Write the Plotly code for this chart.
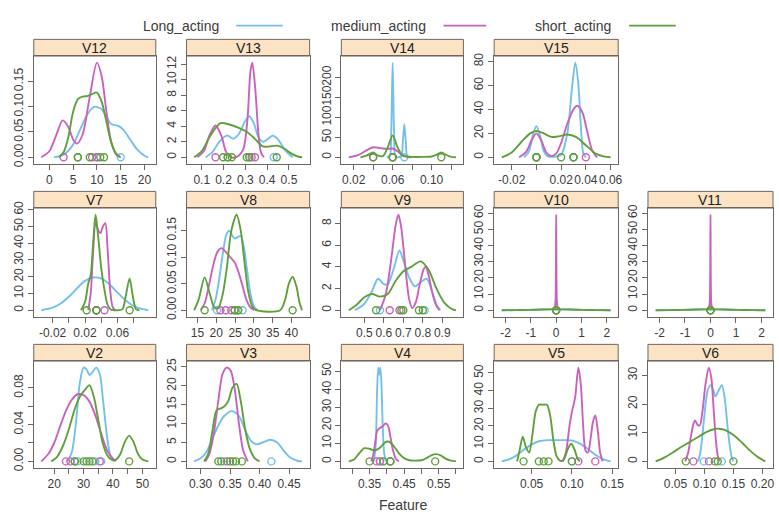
import plotly.graph_objects as go

# ---------------- data ----------------
groups = ["Long_acting", "medium_acting", "short_acting"]

# density curves: lists of (x, density)
V12_long = [(1,0),(3,0.005),(5,0.025),(6.5,0.055),(8,0.085),(9.5,0.1),(11,0.095),(12,0.08),(13,0.066),(14.5,0.062),(15.5,0.055),(17,0.035),(18.5,0.015),(20,0.003),(20.8,0)]
V12_med = [(-1.7,0),(0,0.012),(1.5,0.045),(2.8,0.073),(4,0.06),(5,0.035),(5.8,0.027),(7,0.045),(8.5,0.12),(10,0.187),(11,0.16),(12,0.09),(13,0.03),(14,0.006),(14.8,0)]
V12_short = [(2,0),(3,0.01),(4,0.04),(5,0.09),(6,0.115),(7,0.12),(8,0.121),(9,0.125),(10,0.128),(11,0.11),(12,0.07),(13,0.03),(14,0.008),(15,0)]
V12_obs = {"long": [10, 15], "med": [3, 9, 10], "short": [6, 6, 8.5, 10.7, 11.5]}

V13_long = [(0.118,0),(0.15,0.7),(0.18,2),(0.216,2.8),(0.246,2.4),(0.27,3),(0.3,4.7),(0.318,5.3),(0.34,4.3),(0.36,2.6),(0.381,2.0),(0.405,2.4),(0.426,2.8),(0.45,2.3),(0.48,1.0),(0.517,0)]
V13_med = [(0.08,0),(0.11,0.8),(0.135,2.8),(0.163,4.1),(0.19,2.8),(0.21,0.8),(0.23,0.05),(0.26,0.05),(0.29,1),(0.31,5),(0.323,11),(0.332,12.2),(0.345,9),(0.36,3),(0.372,0.6),(0.385,0)]
V13_short = [(0.065,0),(0.1,0.8),(0.14,2.8),(0.186,4.4),(0.23,4.2),(0.27,3.8),(0.306,3.3),(0.34,2.5),(0.38,1.4),(0.41,1.4),(0.446,1.5),(0.48,1.1),(0.51,0.5),(0.54,0.1),(0.56,0)]
V13_obs = {"long": [0.318, 0.43], "med": [0.163, 0.329, 0.344], "short": [0.198, 0.219, 0.219, 0.238, 0.306, 0.318, 0.444]}

V14_long = [(0.054,0),(0.057,2),(0.0585,60),(0.06,237),(0.0615,60),(0.063,2),(0.066,0),(0.069,3),(0.0705,40),(0.072,83),(0.0735,40),(0.075,3),(0.078,0)]
V14_med = [(0.015,0),(0.025,6),(0.035,20),(0.04,25),(0.045,24),(0.05,22),(0.055,21),(0.06,22),(0.065,15),(0.07,5),(0.075,1),(0.08,0)]
V14_short = [(0.027,0),(0.033,4),(0.04,12),(0.045,4),(0.05,3),(0.055,25),(0.06,55),(0.065,25),(0.07,5),(0.075,2),(0.08,1),(0.09,1),(0.1,2),(0.105,6),(0.11,12),(0.115,6),(0.12,1),(0.125,0)]
V14_obs = {"long": [0.06, 0.072], "med": [0.04, 0.06], "short": [0.04, 0.06, 0.06, 0.11]}

V15_long = [(-0.01,0),(-0.006,5),(-0.003,18),(0,26),(0.003,18),(0.006,5),(0.009,1),(0.015,0.5),(0.02,2),(0.025,20),(0.029,60),(0.0315,79),(0.034,60),(0.036,25),(0.038,3),(0.04,0)]
V15_med = [(-0.014,0),(-0.008,5),(-0.004,14),(0,20),(0.004,14),(0.008,4),(0.012,1),(0.016,3),(0.02,12),(0.025,28),(0.03,40),(0.033,43),(0.037,38),(0.041,22),(0.045,6),(0.049,0)]
V15_short = [(-0.028,0),(-0.02,4),(-0.012,13),(-0.005,20),(0,22),(0.006,20),(0.012,17),(0.018,17.5),(0.025,19),(0.032,17),(0.04,10),(0.048,3),(0.055,0.5),(0.06,0)]
V15_obs = {"long": [0, 0.03], "med": [0, 0.04], "short": [0, 0, 0.02, 0.03, 0.03]}

V7_long = [(-0.034,0),(-0.02,1.5),(-0.01,4),(0,8),(0.01,13),(0.02,17.5),(0.03,19.5),(0.04,19),(0.05,15.5),(0.06,10.5),(0.07,6),(0.08,2.5),(0.09,0.8),(0.098,0)]
V7_med = [(0.024,0),(0.027,10),(0.03,35),(0.033,52),(0.036,48),(0.039,46),(0.042,50),(0.045,52),(0.048,35),(0.051,12),(0.054,2),(0.057,0)]
V7_short = [(0.015,0),(0.02,5),(0.024,16),(0.027,21),(0.03,40),(0.033,57),(0.036,45),(0.04,25),(0.044,12),(0.048,3),(0.052,0.3),(0.058,0),(0.066,0.5),(0.07,8),(0.075,19),(0.079,8),(0.083,0.5),(0.087,0)]
V7_obs = {"long": [0.034], "med": [0.034, 0.044], "short": [0.022, 0.034, 0.034, 0.075]}

V8_long = [(18.8,0),(19.8,0.02),(20.8,0.06),(21.8,0.11),(22.7,0.143),(23.5,0.15),(24.3,0.14),(24.9,0.135),(25.7,0.138),(26.5,0.14),(27.3,0.12),(28.2,0.075),(29.1,0.03),(30,0.007),(31,0)]
V8_med = [(15.9,0),(17,0.015),(18,0.045),(19.2,0.085),(20.3,0.11),(21.4,0.117),(22.5,0.11),(23.7,0.1),(24.9,0.09),(26,0.07),(27,0.045),(28,0.02),(29,0.006),(30.1,0)]
V8_short = [(14.1,0),(15.3,0.02),(16.9,0.062),(18.3,0.03),(19.5,0.005),(20.5,0.004),(21.7,0.03),(22.8,0.08),(24,0.15),(25.4,0.18),(26.5,0.15),(27.5,0.09),(28.5,0.035),(29.5,0.008),(30.6,0),(37,0),(38.3,0.02),(39.3,0.05),(40.3,0.063),(41.3,0.045),(42.1,0.015),(42.8,0)]
V8_obs = {"long": [20.2, 27], "med": [21.1, 22.5, 24], "short": [16.9, 24.9, 24.9, 25.8, 25.8, 40.3]}

V9_long = [(0.45,0),(0.5,0.6),(0.54,1.8),(0.57,2.9),(0.6,2.4),(0.62,2.4),(0.65,3.8),(0.68,5.5),(0.7,4.6),(0.73,3),(0.76,2.2),(0.79,2.6),(0.82,2.9),(0.85,1.6),(0.87,0.5),(0.89,0)]
V9_med = [(0.58,0),(0.61,1.5),(0.64,5),(0.66,7.8),(0.675,8.8),(0.69,7.5),(0.71,4),(0.73,1),(0.745,0.2),(0.765,0.8),(0.785,2.5),(0.805,3.8),(0.815,4.0),(0.83,3.2),(0.85,1.5),(0.87,0.4),(0.885,0)]
V9_short = [(0.42,0),(0.46,0.5),(0.5,1.2),(0.54,1.5),(0.58,1.25),(0.62,1.5),(0.66,2.7),(0.7,3.6),(0.74,4.0),(0.79,4.5),(0.83,3.7),(0.87,2),(0.91,0.7),(0.95,0.1),(0.97,0)]
V9_obs = {"long": [0.58, 0.81], "med": [0.63, 0.68], "short": [0.56, 0.69, 0.7, 0.78, 0.8]}

V10_long = [(-2.15,0),(-1.6,0.07),(-1.1,0.22),(-0.55,0.45),(0,0.55),(0.55,0.45),(1.1,0.22),(1.6,0.07),(2.15,0)]
V10_med = [(-0.06,0),(-0.025,6),(0,59),(0.025,6),(0.06,0)]
V10_short = [(-2.15,0),(-1.6,0.07),(-1.1,0.22),(-0.55,0.45),(0,0.55),(0.55,0.45),(1.1,0.22),(1.6,0.07),(2.15,0)]
V10_obs = {"long": [0], "med": [0], "short": [0, 0]}

V11_long = [(-2.15,0),(-1.6,0.07),(-1.1,0.22),(-0.55,0.45),(0,0.55),(0.55,0.45),(1.1,0.22),(1.6,0.07),(2.15,0)]
V11_med = [(-0.06,0),(-0.025,6),(0,59),(0.025,6),(0.06,0)]
V11_short = [(-2.15,0),(-1.6,0.07),(-1.1,0.22),(-0.55,0.45),(0,0.55),(0.55,0.45),(1.1,0.22),(1.6,0.07),(2.15,0)]
V11_obs = {"long": [0], "med": [0], "short": [0, 0]}

V2_long = [(24.5,0),(26,0.01),(27.5,0.045),(28.7,0.085),(30,0.102),(31,0.1),(32,0.094),(33,0.097),(34.3,0.102),(35.5,0.095),(36.5,0.07),(37.5,0.04),(38.5,0.015),(39.5,0.003),(40.5,0)]
V2_med = [(15.6,0),(18,0.008),(20,0.02),(22,0.038),(24,0.055),(26,0.067),(28,0.073),(30,0.072),(32,0.065),(34,0.05),(36,0.03),(38,0.012),(40,0.003),(41,0)]
V2_short = [(19,0),(21,0.005),(23,0.017),(25,0.035),(27,0.057),(29,0.072),(30.5,0.078),(32,0.083),(33.5,0.07),(35,0.045),(36.5,0.02),(38,0.007),(39.5,0.002),(41,0.002),(42.5,0.008),(44,0.021),(45.5,0.028),(47,0.021),(48.5,0.008),(50,0.002),(52,0)]
V2_obs = {"long": [28, 34, 36], "med": [24, 25.5, 35.5], "short": [27, 27, 30, 31, 32, 33, 45.5]}

V3_long = [(0.289,0),(0.3,0.8),(0.31,2.5),(0.32,6),(0.33,9.5),(0.34,12),(0.353,13.3),(0.365,12),(0.375,8.5),(0.385,5.5),(0.395,4.5),(0.405,5),(0.418,5.7),(0.43,5),(0.44,3),(0.452,1),(0.465,0.1),(0.472,0)]
V3_med = [(0.308,0),(0.315,2),(0.322,7),(0.33,16),(0.337,23),(0.344,24.8),(0.351,24),(0.358,19),(0.365,10),(0.372,3),(0.38,0)]
V3_short = [(0.306,0),(0.313,2),(0.32,8),(0.327,13.5),(0.334,14),(0.34,14.5),(0.347,16),(0.354,19.5),(0.361,20.5),(0.368,16),(0.375,9),(0.383,3.5),(0.392,0.8),(0.4,0)]
V3_obs = {"long": [0.34, 0.42], "med": [0.345], "short": [0.33, 0.335, 0.35, 0.355, 0.36, 0.37]}

V4_long = [(0.363,0),(0.368,10),(0.372,40),(0.375,52),(0.378,48),(0.381,52),(0.384,45),(0.388,20),(0.392,5),(0.397,0)]
V4_med = [(0.355,0),(0.36,3),(0.366,10),(0.372,17),(0.38,18.5),(0.388,19.5),(0.396,21),(0.403,20),(0.41,14),(0.418,6),(0.426,1.5),(0.435,0)]
V4_short = [(0.29,0),(0.305,1),(0.32,4.5),(0.335,7.3),(0.35,7),(0.365,6),(0.38,7.5),(0.395,10.5),(0.405,11),(0.42,8.5),(0.435,4.5),(0.45,1.8),(0.465,0.6),(0.48,0.4),(0.5,0.6),(0.515,1.8),(0.53,3.5),(0.543,4),(0.556,3.3),(0.57,1.5),(0.585,0.4),(0.6,0)]
V4_obs = {"long": [0.38, 0.39], "med": [0.37, 0.38, 0.41], "short": [0.35, 0.39, 0.41, 0.41, 0.54]}

V5_long = [(0.013,0),(0.02,0.8),(0.03,3),(0.04,6.5),(0.05,9.5),(0.06,11.5),(0.07,12),(0.08,12),(0.09,12),(0.1,11.8),(0.11,10),(0.12,7),(0.13,3.5),(0.14,1),(0.148,0)]
V5_med = [(0.089,0),(0.093,6),(0.097,20),(0.1,28),(0.104,36),(0.108,53),(0.111,44),(0.114,20),(0.117,6),(0.12,5),(0.123,12),(0.126,22),(0.129,26),(0.132,18),(0.135,5),(0.138,0)]
V5_short = [(0.032,0),(0.035,6),(0.039,14),(0.043,8),(0.047,5),(0.051,15),(0.055,28),(0.059,32),(0.064,32),(0.069,32),(0.073,26),(0.077,12),(0.081,3),(0.085,0.5),(0.088,0.3),(0.091,2),(0.095,7),(0.099,10),(0.103,7),(0.107,1.5),(0.11,0)]
V5_obs = {"long": [0.1], "med": [0.108, 0.129], "short": [0.04, 0.059, 0.065, 0.071, 0.1]}

V6_long = [(0.089,0),(0.093,3),(0.097,10),(0.101,18),(0.106,25),(0.111,26.6),(0.115,25),(0.119,22.6),(0.124,24.5),(0.13,26.6),(0.135,22),(0.14,12),(0.144,5),(0.147,1.5),(0.15,0)]
V6_med = [(0.067,0),(0.072,3),(0.077,9),(0.081,13),(0.084,14.3),(0.088,12.8),(0.092,12.5),(0.097,18),(0.102,27),(0.1076,32.7),(0.112,29),(0.116,18),(0.12,7),(0.123,2),(0.126,0)]
V6_short = [(0.016,0),(0.03,1.2),(0.045,3),(0.06,5),(0.075,6.8),(0.09,8.6),(0.105,10.4),(0.118,11.3),(0.125,11.4),(0.135,11),(0.15,9.2),(0.165,6.5),(0.18,3.5),(0.193,1.4),(0.205,0)]
V6_obs = {"long": [0.099, 0.13], "med": [0.081, 0.108], "short": [0.068, 0.118, 0.123, 0.15]}

# axis tick labels per panel
ticks = {
    "V12": ([0, 5, 10, 15, 20], ["0", "5", "10", "15", "20"], [0, 0.05, 0.10, 0.15], ["0.00", "0.05", "0.10", "0.15"]),
    "V13": ([0.1, 0.2, 0.3, 0.4, 0.5], ["0.1", "0.2", "0.3", "0.4", "0.5"], [0, 2, 4, 6, 8, 10, 12], ["0", "2", "4", "6", "8", "10", "12"]),
    "V14": ([0.02, 0.04, 0.06, 0.08, 0.10, 0.12], ["0.02", "", "0.06", "", "0.10", ""], [0, 50, 100, 150, 200], ["0", "50", "100", "150", "200"]),
    "V15": ([-0.02, 0, 0.02, 0.04, 0.06], ["-0.02", "", "0.02", "0.04", "0.06"], [0, 20, 40, 60, 80], ["0", "20", "40", "60", "80"]),
    "V7": ([-0.02, 0, 0.02, 0.04, 0.06, 0.08], ["-0.02", "", "0.02", "", "0.06", ""], [0, 10, 20, 30, 40, 50, 60], ["0", "10", "20", "30", "40", "50", "60"]),
    "V8": ([15, 20, 25, 30, 35, 40], ["15", "20", "25", "30", "35", "40"], [0, 0.05, 0.10, 0.15], ["0.00", "0.05", "0.10", "0.15"]),
    "V9": ([0.5, 0.6, 0.7, 0.8, 0.9], ["0.5", "0.6", "0.7", "0.8", "0.9"], [0, 2, 4, 6, 8], ["0", "2", "4", "6", "8"]),
    "V10": ([-2, -1, 0, 1, 2], ["-2", "-1", "0", "1", "2"], [0, 10, 20, 30, 40, 50, 60], ["0", "10", "20", "30", "40", "50", "60"]),
    "V11": ([-2, -1, 0, 1, 2], ["-2", "-1", "0", "1", "2"], [0, 10, 20, 30, 40, 50, 60], ["0", "10", "20", "30", "40", "50", "60"]),
    "V2": ([20, 25, 30, 35, 40, 45, 50], ["20", "", "30", "", "40", "", "50"], [0, 0.02, 0.04, 0.06, 0.08], ["0.00", "", "0.04", "", "0.08"]),
    "V3": ([0.30, 0.35, 0.40, 0.45], ["0.30", "0.35", "0.40", "0.45"], [0, 5, 10, 15, 20, 25], ["0", "5", "10", "15", "20", "25"]),
    "V4": ([0.30, 0.35, 0.40, 0.45, 0.50, 0.55, 0.60], ["", "0.35", "", "0.45", "", "0.55", ""], [0, 10, 20, 30, 40, 50], ["0", "10", "20", "30", "40", "50"]),
    "V5": ([0.05, 0.10, 0.15], ["0.05", "0.10", "0.15"], [0, 10, 20, 30, 40, 50], ["0", "10", "20", "30", "40", "50"]),
    "V6": ([0.05, 0.10, 0.15, 0.20], ["0.05", "0.10", "0.15", "0.20"], [0, 10, 20, 30], ["0", "10", "20", "30"]),
}

panels = [
    ("V12", V12_long, V12_med, V12_short, V12_obs),
    ("V13", V13_long, V13_med, V13_short, V13_obs),
    ("V14", V14_long, V14_med, V14_short, V14_obs),
    ("V15", V15_long, V15_med, V15_short, V15_obs),
    ("V7", V7_long, V7_med, V7_short, V7_obs),
    ("V8", V8_long, V8_med, V8_short, V8_obs),
    ("V9", V9_long, V9_med, V9_short, V9_obs),
    ("V10", V10_long, V10_med, V10_short, V10_obs),
    ("V11", V11_long, V11_med, V11_short, V11_obs),
    ("V2", V2_long, V2_med, V2_short, V2_obs),
    ("V3", V3_long, V3_med, V3_short, V3_obs),
    ("V4", V4_long, V4_med, V4_short, V4_obs),
    ("V5", V5_long, V5_med, V5_short, V5_obs),
    ("V6", V6_long, V6_med, V6_short, V6_obs),
]

# ---------------- layout / style ----------------
W, H = 779, 519
COLORS = {"long": "#74C0EA", "med": "#C862BE", "short": "#5FA03C"}
STRIP_FILL = "#FCE3C4"
BORDER = "#6F6660"
TEXT = "#3C3C3C"
FONT = "Liberation Sans, Arial, sans-serif"

COLS = [(34, 157), (188, 312), (344, 467), (498, 623), (653, 779)]
ROWS = [(33, 50, 160), (188, 205, 316), (344, 361, 470)]  # strip top, plot top, plot bottom
positions = [(0, 0), (0, 1), (0, 2), (0, 3),
             (1, 0), (1, 1), (1, 2), (1, 3), (1, 4),
             (2, 0), (2, 1), (2, 2), (2, 3), (2, 4)]

PAD = 0.07

fig = go.Figure()
shapes = []
annotations = []
layout_axes = {}

for k, ((name, c_long, c_med, c_short, obs), (r, c)) in enumerate(zip(panels, positions), start=1):
    xs = "x" if k == 1 else f"x{k}"
    ys = "y" if k == 1 else f"y{k}"
    curves = {"long": c_long, "med": c_med, "short": c_short}
    allx = [p[0] for cv in curves.values() for p in cv] + [v for o in obs.values() for v in o]
    ymax = max(p[1] for cv in curves.values() for p in cv)
    xmin, xmax = min(allx), max(allx)
    xr = [xmin - PAD * (xmax - xmin), xmax + PAD * (xmax - xmin)]
    yr = [-PAD * ymax, ymax * (1 + PAD)]

    for key in ["long", "med", "short"]:
        cv = curves[key]
        fig.add_trace(go.Scatter(
            x=[p[0] for p in cv], y=[p[1] for p in cv], mode="lines",
            line=dict(color=COLORS[key], width=1.9, shape="spline", smoothing=0.8),
            xaxis=xs, yaxis=ys, showlegend=False, hoverinfo="skip"))
        fig.add_trace(go.Scatter(
            x=obs[key], y=[0] * len(obs[key]), mode="markers",
            marker=dict(symbol="circle-open", size=7, color=COLORS[key], line=dict(width=1.4)),
            xaxis=xs, yaxis=ys, showlegend=False, hoverinfo="skip"))

    x0, x1 = COLS[c]
    st, pt, pb = ROWS[r]
    xt, xl, yt, yl = ticks[name]
    axcommon = dict(showgrid=False, zeroline=False, showline=True, mirror=True,
                    linecolor=BORDER, linewidth=1, ticks="outside", ticklen=5,
                    tickcolor=BORDER, tickwidth=1,
                    tickfont=dict(family=FONT, size=12, color=TEXT))
    layout_axes["xaxis" if k == 1 else f"xaxis{k}"] = dict(
        domain=[x0 / W, x1 / W], anchor=ys, range=xr, tickvals=xt, ticktext=xl,
        tickangle=0, **axcommon)
    layout_axes["yaxis" if k == 1 else f"yaxis{k}"] = dict(
        domain=[1 - pb / H, 1 - pt / H], anchor=xs, range=yr, tickvals=yt, ticktext=yl,
        tickangle=-90, **axcommon)

    shapes.append(dict(type="rect", xref="paper", yref="paper",
                       x0=x0 / W, x1=x1 / W, y0=1 - pt / H, y1=1 - st / H,
                       fillcolor=STRIP_FILL, line=dict(color=BORDER, width=1), layer="below"))
    annotations.append(dict(text=name, xref="paper", yref="paper",
                            x=(x0 + x1) / 2 / W, y=1 - (st + pt) / 2 / H,
                            xanchor="center", yanchor="middle", showarrow=False,
                            font=dict(family=FONT, size=14, color="#222")))

# key at the top: text then line
key_items = [("Long_acting", "long", 223, 238, 285),
             ("medium_acting", "med", 431, 447, 490),
             ("short_acting", "short", 618, 634, 681)]
KEY_Y = 19
for label, key, tx, lx0, lx1 in key_items:
    annotations.append(dict(text=label, xref="paper", yref="paper", x=tx / W, y=1 - KEY_Y / H,
                            xanchor="right", yanchor="middle", showarrow=False,
                            font=dict(family=FONT, size=14, color=TEXT)))
    shapes.append(dict(type="line", xref="paper", yref="paper",
                       x0=lx0 / W, x1=lx1 / W, y0=1 - KEY_Y / H, y1=1 - KEY_Y / H,
                       line=dict(color=COLORS[key], width=1.8)))

annotations.append(dict(text="Feature", xref="paper", yref="paper", x=406 / W, y=1 - 508 / H,
                        xanchor="center", yanchor="middle", showarrow=False,
                        font=dict(family=FONT, size=14, color=TEXT)))

fig.update_layout(width=W, height=H, margin=dict(l=0, r=0, t=0, b=0),
                  paper_bgcolor="white", plot_bgcolor="white",
                  shapes=shapes, annotations=annotations, showlegend=False,
                  **layout_axes)

fig.write_html("out.html")
